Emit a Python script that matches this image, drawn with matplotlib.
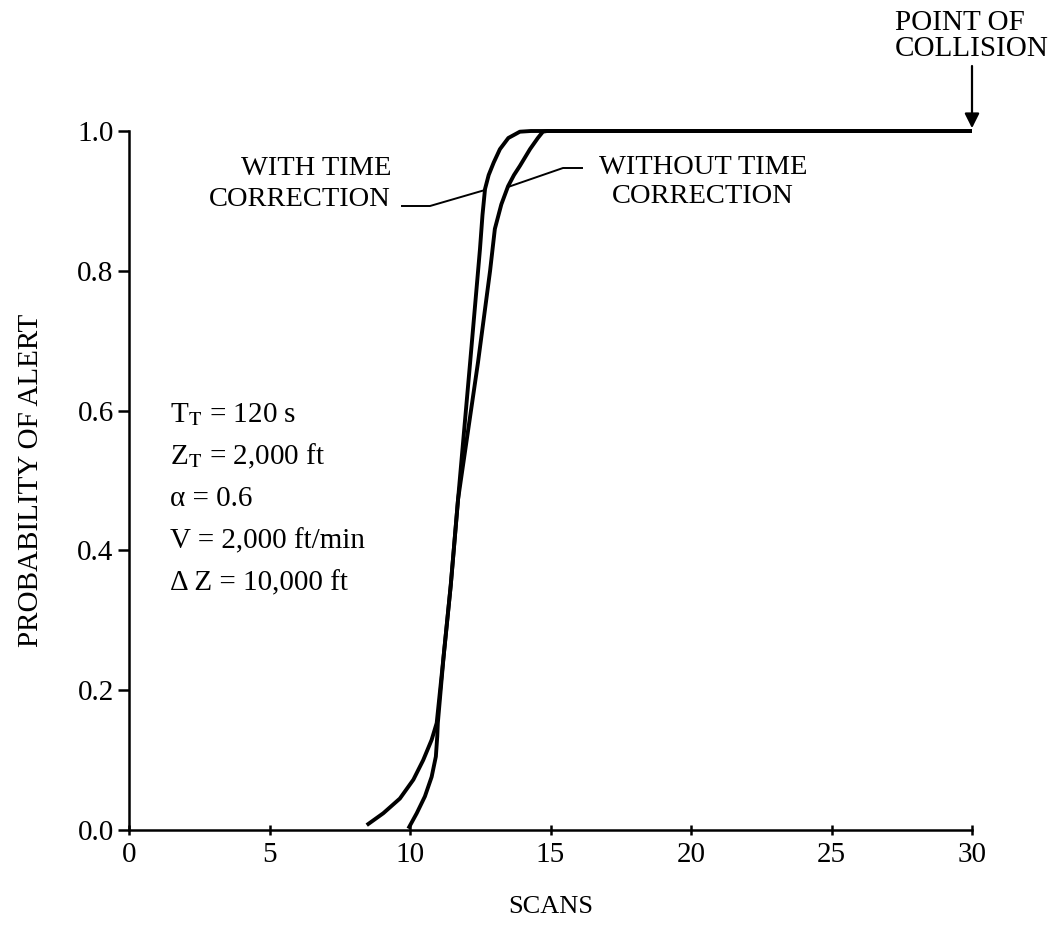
import matplotlib

matplotlib.use("Agg")
import matplotlib.pyplot as plt  # noqa: E402

plt.rcParams["font.family"] = ["Liberation Serif", "DejaVu Serif"]
plt.rcParams["mathtext.fontset"] = "stix"

# probability of alert vs. scans
with_x = [9.94, 10.24, 10.53, 10.77, 10.92, 10.97, 10.99, 11.2, 11.45, 11.71,
          12.14, 12.49, 12.58, 12.67, 12.8, 12.98, 13.2, 13.5, 13.91, 14.3, 30.0]
with_y = [0.002, 0.024, 0.048, 0.076, 0.105, 0.134, 0.153, 0.25, 0.35, 0.473,
          0.669, 0.831, 0.880, 0.917, 0.937, 0.955, 0.974, 0.990, 0.999, 1.0, 1.0]

without_x = [8.46, 9.05, 9.64, 10.12, 10.47, 10.77, 10.95, 11.2, 11.45, 11.71,
             12.42, 12.85, 13.02, 13.25, 13.49, 13.7, 13.91, 14.27, 14.55, 14.73, 14.88, 30.0]
without_y = [0.007, 0.024, 0.045, 0.072, 0.100, 0.129, 0.153, 0.25, 0.35, 0.473,
             0.669, 0.800, 0.860, 0.895, 0.921, 0.937, 0.950, 0.974, 0.990, 0.999, 1.0, 1.0]

x_ticks = [0, 5, 10, 15, 20, 25, 30]
y_ticks = [0.0, 0.2, 0.4, 0.6, 0.8, 1.0]

params = [
    r"T$_\mathrm{T}$ = 120 s",
    r"Z$_\mathrm{T}$ = 2,000 ft",
    "α = 0.6",
    "V = 2,000 ft/min",
    "Δ Z = 10,000 ft",
]

W, H = 1059, 927
fig = plt.figure(figsize=(W / 100, H / 100), dpi=100)
ax = fig.add_axes([129 / W, 1 - 830 / H, (972 - 129) / W, (830 - 131) / H])


def px(x, y):
    # figure pixel (from top-left) -> data coords
    return (x - 129) / 28.1, (830 - y) / 699.0


ax.plot(with_x, with_y, color="black", lw=2.8, solid_capstyle="butt", clip_on=False)
ax.plot(without_x, without_y, color="black", lw=2.8, solid_capstyle="butt", clip_on=False)

ax.set_xlim(0, 30)
ax.set_ylim(0, 1)
ax.set_xticks(x_ticks)
ax.set_yticks(y_ticks)
ax.set_yticklabels([f"{v:.1f}" for v in y_ticks])
ax.tick_params(axis="y", direction="out", length=8, width=1.8, labelsize=21, pad=3)
ax.tick_params(axis="x", direction="inout", length=7, width=1.8, labelsize=21, pad=5)
for s in ("top", "right"):
    ax.spines[s].set_visible(False)
for s in ("left", "bottom"):
    ax.spines[s].set_linewidth(1.8)
ax.set_xlabel("SCANS", fontsize=19, labelpad=20)
ax.set_ylabel("PROBABILITY OF ALERT", fontsize=21, labelpad=24)

# curve labels with leader lines
lx, ly = zip(px(402, 206), px(430, 206), px(485, 190))
ax.plot(lx, ly, color="black", lw=1.4, clip_on=False)
ax.text(*px(391, 184), "WITH TIME\nCORRECTION", ha="right", va="center",
        multialignment="right", fontsize=20.5, linespacing=1.3)
lx, ly = zip(px(508, 187), px(563, 168), px(582, 168))
ax.plot(lx, ly, color="black", lw=1.4, clip_on=False)
ax.text(*px(703, 182), "WITHOUT TIME\nCORRECTION", ha="center", va="center",
        multialignment="center", fontsize=20.5, linespacing=1.2)

# point of collision
ax.annotate("", xy=(30, 1.004), xytext=(30, px(0, 66)[1]),
            arrowprops=dict(arrowstyle="-|>", lw=1.6, color="black",
                            mutation_scale=22, shrinkA=0, shrinkB=0),
            annotation_clip=False)
ax.text(*px(895, 36), "POINT OF\nCOLLISION", ha="left", va="center",
        multialignment="left", fontsize=21, linespacing=1.05)

# parameters
for i, s in enumerate(params):
    ax.text(*px(170, 422 + 42 * i), s, ha="left", va="baseline", fontsize=21)

fig.savefig("out.png", dpi=100)
